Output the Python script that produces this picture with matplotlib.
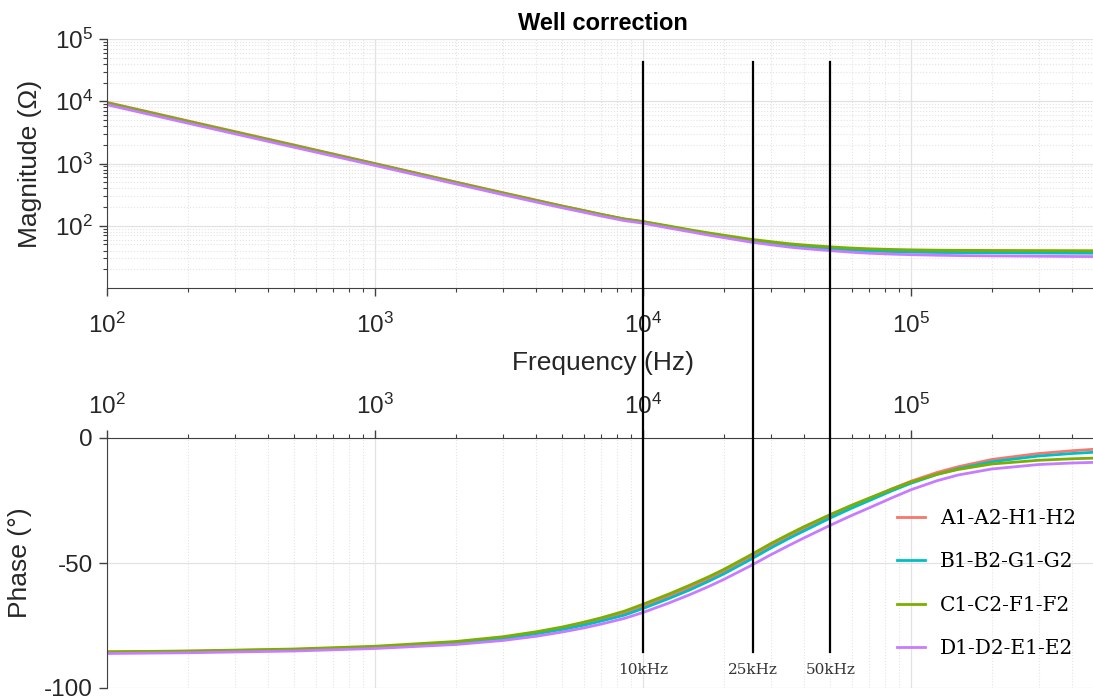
import numpy as np
import matplotlib
matplotlib.use("Agg")
import matplotlib.pyplot as plt
from matplotlib.lines import Line2D
from matplotlib.transforms import blended_transform_factory

plt.rcParams['font.family'] = ['Liberation Sans', 'DejaVu Sans']
plt.rcParams['mathtext.fontset'] = 'custom'
plt.rcParams['mathtext.rm'] = 'Liberation Sans'

freq = [100, 200, 500, 1e3, 2e3, 3e3, 4e3, 5e3, 6e3, 7e3, 8.5e3, 1e4,
        1.25e4, 1.5e4, 1.75e4, 2e4, 2.5e4, 3e4, 3.5e4, 4e4, 5e4, 6e4, 7e4,
        8.5e4, 1e5, 1.25e5, 1.5e5, 2e5, 3e5, 4e5, 5e5]

groups = ['A1-A2-H1-H2', 'B1-B2-G1-G2', 'C1-C2-F1-F2', 'D1-D2-E1-E2']
colors = ['#F8766D', '#00BFC4', '#7CAE00', '#C77CFF']

# magnitude (ohm)
mag_a = [9600, 4850, 1980, 1000, 505, 340, 258, 208, 176, 152, 128, 116,
         97, 84, 75, 68.5, 59, 53, 49, 46.5, 43, 41, 39.7,
         38.6, 38, 37.5, 37.2, 37, 36.8, 36.6, 36.5]
mag_b = [9300, 4700, 1920, 975, 492, 331, 251, 203, 172, 149, 126, 114,
         96, 83, 74, 67.5, 58, 52.3, 48.5, 46, 42.8, 40.8, 39.6,
         38.5, 37.9, 37.4, 37.1, 36.9, 36.7, 36.5, 36.4]
mag_c = [9400, 4750, 1940, 985, 497, 335, 254, 206, 175, 152, 129, 117,
         99, 86, 77, 70.5, 61, 55.5, 51.5, 49, 45.8, 43.8, 42.6,
         41.6, 41.0, 40.5, 40.3, 40.1, 39.9, 39.8, 39.7]
mag_d = [8800, 4450, 1820, 930, 470, 316, 240, 194, 165, 143, 121, 110,
         92, 80, 71, 64.5, 55, 49.5, 45.5, 43, 39.8, 37.6, 36.2,
         35, 34.3, 33.6, 33.2, 32.8, 32.4, 32.1, 32]

# phase (deg)
ph_a = [-85.6, -85.3, -84.6, -83.6, -81.8, -79.9, -78.0, -76.2, -74.4, -72.7, -70.3, -67.5,
        -63.3, -59.8, -56.5, -53.5, -47.8, -43.0, -39.3, -36.2, -31.2, -27.3, -24.2,
        -20.3, -17.3, -13.8, -11.5, -8.6, -6.2, -5.1, -4.4]
ph_b = [-85.8, -85.5, -84.8, -83.8, -82.0, -80.2, -78.3, -76.6, -74.9, -73.2, -70.9, -68.2,
        -64.2, -60.7, -57.4, -54.4, -48.8, -44.0, -40.2, -37.1, -32.0, -28.1, -25.0,
        -21.1, -18.1, -14.6, -12.3, -9.5, -7.2, -6.2, -5.6]
ph_c = [-85.5, -85.2, -84.4, -83.3, -81.4, -79.5, -77.5, -75.6, -73.7, -71.9, -69.3, -66.5,
        -62.4, -58.8, -55.6, -52.6, -47.0, -42.2, -38.5, -35.4, -30.6, -26.9, -24.0,
        -20.4, -17.6, -14.5, -12.6, -10.4, -8.9, -8.3, -8.0]
ph_d = [-86.2, -85.9, -85.2, -84.2, -82.6, -81.0, -79.3, -77.6, -76.0, -74.4, -72.2, -69.8,
        -66.0, -62.6, -59.5, -56.6, -51.3, -46.7, -43.0, -39.9, -34.9, -31.0, -27.9,
        -23.9, -20.7, -17.1, -14.8, -12.4, -10.6, -10.0, -9.7]

mags = [mag_a, mag_b, mag_c, mag_d]
phases = [ph_a, ph_b, ph_c, ph_d]

# marker lines (the middle one sits at the nearest measured point to 25 kHz)
markers_hz = [1e4, 2.58e4, 5e4]
marker_labels = ['10kHz', '25kHz', '50kHz']

W, H = 1093, 698
fig = plt.figure(figsize=(W / 100, H / 100), dpi=100)

axw = (1098.3 - 107) / W
ax1 = fig.add_axes([107 / W, 1 - 288 / H, axw, 249 / H])
ax2 = fig.add_axes([107 / W, 1 - 688 / H, axw, 250 / H])

spine_c = '#404040'
tick_c = '#262626'

for m, c, g in zip(mags, colors, groups):
    ax1.plot(freq, m, color=c, lw=2.0, label=g)
for p, c, g in zip(phases, colors, groups):
    ax2.plot(freq, p, color=c, lw=2.0, label=g)

for ax in (ax1, ax2):
    ax.set_xscale('log')
    ax.set_xlim(100, 5e5)
    ax.set_xticks([1e2, 1e3, 1e4, 1e5])
    ax.grid(True, which='major', color='#e2e2e2', lw=0.9)
    ax.grid(True, which='minor', color='#e4e4e4', lw=0.8, linestyle=':')
    ax.set_axisbelow(True)
    ax.spines['right'].set_visible(False)
    ax.tick_params(which='major', length=6, width=1, colors=spine_c,
                   labelcolor=tick_c, labelsize=17.5)
    ax.tick_params(which='minor', length=3, width=0.8, colors=spine_c)
    ax.spines['left'].set_color(spine_c)

# magnitude axes
ax1.set_yscale('log')
ax1.set_ylim(10, 1e5)
ax1.set_yticks([1e2, 1e3, 1e4, 1e5])
ax1.spines['top'].set_visible(False)
ax1.spines['bottom'].set_color(spine_c)
ax1.tick_params(axis='x', which='major', pad=12)
ax1.tick_params(axis='y', which='major', pad=4)
ax1.set_ylabel('Magnitude (\u03a9)', fontsize=19, color=tick_c)
ax1.yaxis.set_label_coords(-0.066, 0.5)
ax1.set_xlabel('Frequency (Hz)', fontsize=19, color=tick_c)
ax1.xaxis.set_label_coords(0.5, -0.255)

# phase axes
ax2.set_ylim(-100, 0)
ax2.set_yticks([-100, -50, 0])
ax2.set_yticklabels(['-100', '-50', '0'])
ax2.xaxis.tick_top()
ax2.spines['bottom'].set_visible(False)
ax2.spines['top'].set_color(spine_c)
ax2.tick_params(axis='x', which='major', pad=8)
ax2.tick_params(axis='y', which='major', pad=4)
ax2.set_ylabel('Phase (\u00b0)', fontsize=19, color=tick_c)
ax2.yaxis.set_label_coords(-0.076, 0.5)

# frequency markers spanning both panels
trans = blended_transform_factory(ax1.transData, fig.transFigure)
for f, lab in zip(markers_hz, marker_labels):
    fig.add_artist(Line2D([f, f], [1 - 62 / H, 1 - 652 / H], transform=trans,
                          color='black', lw=1.6))
    fig.text(f, 1 - 674 / H, lab, transform=trans, ha='center', va='baseline',
             fontsize=11, family='DejaVu Serif', color='#333333')

ax2.legend(frameon=False, loc='center left', bbox_to_anchor=(897 / W, 1 - 583.5 / H),
           bbox_transform=fig.transFigure, prop=dict(family='DejaVu Serif', size=14.5),
           handlelength=1.4, handletextpad=0.75, labelspacing=1.2,
           borderpad=0, borderaxespad=0)

fig.text(603 / W, 1 - 29.5 / H, 'Well correction', ha='center', va='baseline',
         fontsize=17, fontweight='bold')

fig.savefig('out.png', dpi=100)
